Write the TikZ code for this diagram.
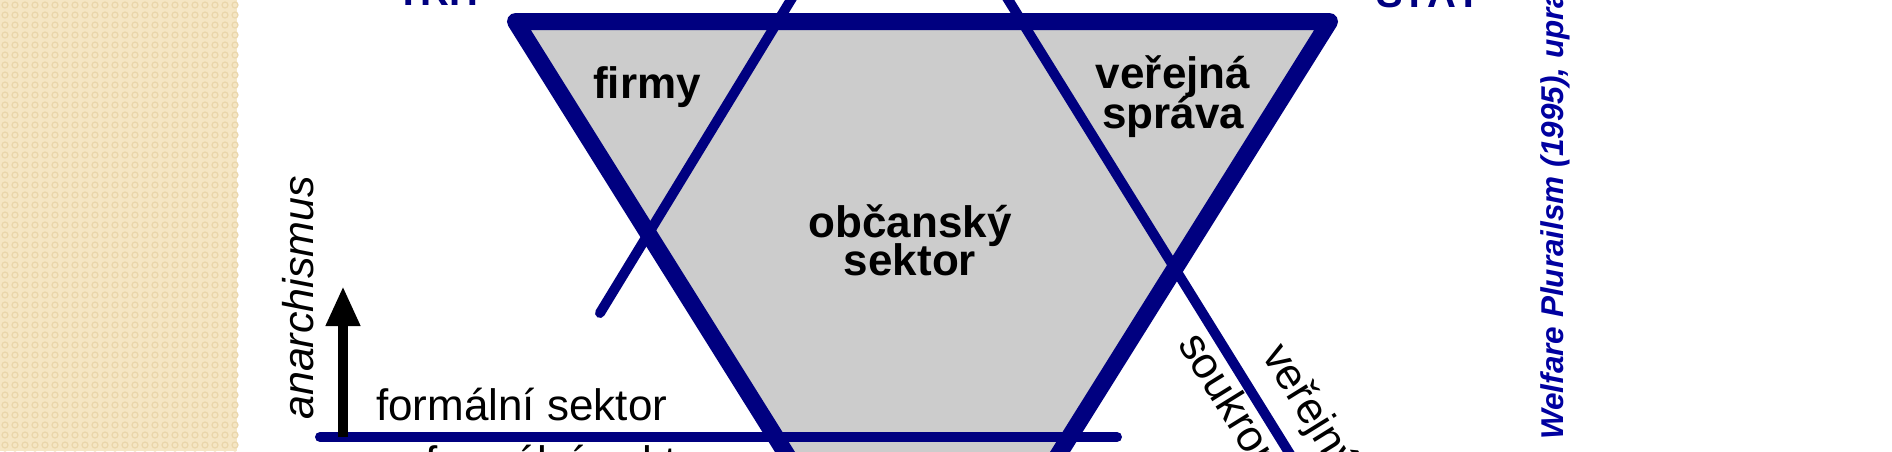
\documentclass[tikz,border=0pt]{standalone}
\usepackage{fontspec}
\setmainfont{Liberation Sans}
\usetikzlibrary{arrows.meta}
\definecolor{navy}{RGB}{0,0,128}
\definecolor{citeblue}{RGB}{0,0,160}
\definecolor{grayfill}{RGB}{204,204,204}
\definecolor{beige}{RGB}{245,230,196}
\definecolor{beigedot}{RGB}{234,214,170}
\begin{document}
\begin{tikzpicture}[x=1pt,y=-1pt,
  thickline/.style={draw=navy,line width=17pt,line join=round},
  thinline/.style={draw=navy,line width=10pt,line cap=round},
  boldlabel/.style={inner sep=0pt,font=\fontsize{44}{44}\selectfont\bfseries},
  plainlabel/.style={inner sep=0pt,font=\fontsize{44}{44}\selectfont},
  italiclabel/.style={inner sep=0pt,font=\fontsize{43}{43}\selectfont\itshape},
  toplabel/.style={inner sep=0pt,text=navy,font=\fontsize{40}{40}\selectfont\bfseries},
  citelabel/.style={inner sep=0pt,text=citeblue,font=\fontsize{31.5}{31.5}\selectfont\bfseries\itshape}]
\useasboundingbox (0,0) rectangle (1892,451);
\clip (0,0) rectangle (1892,451);
\fill[white] (0,0) rectangle (1892,451);
% decorative strip
\fill[beige] (0,0) rectangle (237,451);
\foreach \i in {0,...,23}{\foreach \j in {0,...,45}{
  \draw[beigedot,line width=1.2pt] (\i*10+5,\j*10+5) circle (3pt);}}
% inverted triangle
\coordinate (A) at (515.5,21.5);
\coordinate (B) at (1329.5,21.5);
\coordinate (C) at (922.5,671.7);
\filldraw[fill=grayfill,thickline] (A) -- (B) -- (C) -- cycle;
% thin dividing lines
\coordinate (L1) at (600,313);
\coordinate (L2) at (803,-20);
\coordinate (R1) at (996,-20);
\coordinate (R2) at (1306,480);
\draw[thinline] (L1) -- (L2);
\draw[thinline] (R1) -- (R2);
\coordinate (H1) at (320,437);
\coordinate (H2) at (1117,437);
\draw[thinline] (H1) -- (H2);
% arrow
\coordinate (Ab) at (343,437);
\coordinate (At) at (343,286);
\draw[line width=10pt,-{Triangle[length=40pt,width=32pt]}] (Ab) -- (At);
% labels
\node[boldlabel,anchor=base] (firmy) at (647,98) {firmy};
\node[boldlabel,anchor=base] (vs1) at (1173,88) {veřejná};
\node[boldlabel,anchor=base] (vs2) at (1173,128) {správa};
\node[boldlabel,anchor=base] (os1) at (910,237) {občanský};
\node[boldlabel,anchor=base] (os2) at (910,275) {sektor};
\node[plainlabel,anchor=base west] (fs) at (376,420) {formální sektor};
\node[plainlabel,anchor=base west] (nfs) at (376,477) {neformální sektor};
\node[italiclabel,rotate=90,anchor=base west] (anar) at (313,420) {anarchismus};
\node[plainlabel,rotate=-58.2,anchor=base west] (souk) at (1177,344) {soukromý};
\node[plainlabel,rotate=-58.2,anchor=base west] (verej) at (1261,355) {veřejný};
\node[toplabel,anchor=base west] (trh) at (396,5) {TRH};
\node[toplabel,anchor=base west] (stat) at (1376,7) {STÁT};
\node[citelabel,rotate=90,anchor=base west] (wp) at (1563,440) {Welfare Plurailsm (1995), upraveno};
\end{tikzpicture}
\end{document}
